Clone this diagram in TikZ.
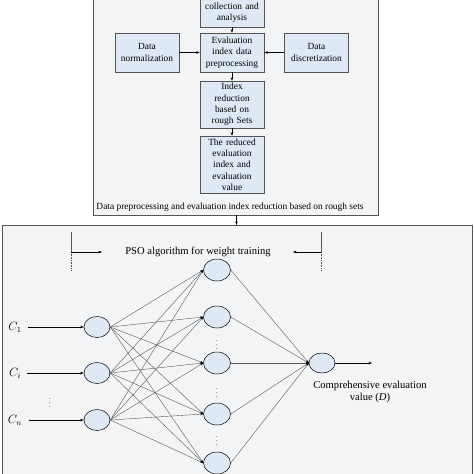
\documentclass[tikz,border=0pt]{standalone}
\usepackage{amsmath}
\usepackage{fontspec}
\setmainfont{Liberation Serif}
\usetikzlibrary{positioning}
\usetikzlibrary{arrows.meta}
\usetikzlibrary{shapes.geometric}
\definecolor{frameColor}{rgb}{0.95,0.955,0.965}
\definecolor{boxColor}{rgb}{0.87,0.915,0.96}
\definecolor{lineColor}{rgb}{0.33,0.33,0.33}
\begin{document}
\begin{tikzpicture}[x=1pt,y=-1pt]

            \tikzstyle{frame} = [draw=lineColor, fill=frameColor, line width=0.8pt];
            \tikzstyle{stepBox} = [draw=lineColor, fill=boxColor, line width=0.6pt, align=center, inner sep=1pt, minimum width=64pt, text width=62pt, font=\fontsize{9.4}{11.3}\selectfont];
            \tikzstyle{neuron} = [draw=black, fill=boxColor, ellipse, line width=0.5pt, minimum width=26pt, minimum height=21pt, inner sep=0pt];
            \tikzstyle{normalText} = [font=\fontsize{10.6}{12}\selectfont, align=center];
            \tikzstyle{dotsText} = [font=\fontsize{6.5}{7}\selectfont, inner sep=0pt];

            \tikzstyle{normalEdge} = [line width=0.5pt, -{Stealth[length=3.5pt,width=2.6pt]}];
            \tikzstyle{weightEdge} = [line width=0.4pt, black!65, -{Stealth[length=3pt,width=2.4pt,black]}];

            \useasboundingbox (0,0) rectangle (474,474);
            \clip (0,0) rectangle (474,474);

            % rough sets part
            \draw[frame] (93,-10) rectangle (378,215);
            \node[stepBox, minimum height=28pt] (collect) at (232,13) {collection and\\analysis};
            \node[stepBox, minimum height=39pt] (prep) at (232,52.5) {Evaluation\\index data\\preprocessing};
            \node[stepBox, minimum height=39pt] (norm) at (147,52.5) {Data\\normalization};
            \node[stepBox, minimum height=39pt] (disc) at (316.5,52.5) {Data\\discretization};
            \node[stepBox, minimum height=47pt] (reduct) at (232,104.5) {Index\\reduction\\based on\\rough Sets};
            \node[stepBox, minimum height=57pt] (result) at (232,164.5) {The reduced\\evaluation\\index and\\evaluation\\value};
            \node[normalText, font=\fontsize{9.4}{11}\selectfont] (roughTitle) at (230,207) {Data preprocessing and evaluation index reduction based on rough sets};

            \draw[normalEdge] (collect) -- (prep);
            \draw[normalEdge] (norm) -- (prep);
            \draw[normalEdge] (disc) -- (prep);
            \draw[normalEdge] (prep) -- (reduct);
            \draw[normalEdge] (reduct) -- (result);

            % neural network part
            \draw[frame] (2,225) rectangle (472,490);
            \coordinate (upOut) at (236.5,215);
            \coordinate (upIn) at (236.5,225);
            \draw[normalEdge] (upOut) -- (upIn);

            \node[normalText] (pso) at (198,252) {PSO algorithm for weight training};
            \coordinate (leftTop) at (71,232);
            \coordinate (leftMid) at (71,252);
            \coordinate (leftBot) at (71,270);
            \coordinate (rightTop) at (321,232);
            \coordinate (rightMid) at (321,252);
            \coordinate (rightBot) at (321,270);
            \coordinate (leftTip) at (102,252);
            \coordinate (rightTip) at (293,252);
            \draw[lineColor, line width=0.6pt] (leftTop) -- (leftMid);
            \draw[lineColor, line width=0.6pt, densely dotted] (leftMid) -- (leftBot);
            \draw[lineColor, line width=0.6pt] (rightTop) -- (rightMid);
            \draw[lineColor, line width=0.6pt, densely dotted] (rightMid) -- (rightBot);
            \draw[normalEdge] (leftMid) -- (leftTip);
            \draw[normalEdge] (rightMid) -- (rightTip);

            \node[normalText, font=\fontsize{11.5}{12}\selectfont] (c1) at (15,327) {$C_1$};
            \node[normalText, font=\fontsize{11.5}{12}\selectfont] (ci) at (15,373) {$C_i$};
            \node[normalText, font=\fontsize{11.5}{12}\selectfont] (cn) at (15,420) {$C_n$};
            \node[dotsText] (cdots) at (50,400) {$\vdots$};

            \node[neuron] (in1) at (97,327) {};
            \node[neuron] (in2) at (97,373) {};
            \node[neuron] (in3) at (97,420) {};

            \node[neuron, minimum width=27pt, minimum height=22pt] (h1) at (217,270) {};
            \node[neuron, minimum width=27pt, minimum height=22pt] (h2) at (217,317) {};
            \node[neuron, minimum width=27pt, minimum height=22pt] (h3) at (217,363) {};
            \node[neuron, minimum width=27pt, minimum height=22pt] (h4) at (217,414) {};
            \node[neuron, minimum width=27pt, minimum height=22pt] (h5) at (217,463) {};
            \node[dotsText] (hdots1) at (217,342) {$\vdots$};
            \node[dotsText] (hdots2) at (217,390) {$\vdots$};
            \node[dotsText] (hdots3) at (217,438) {$\vdots$};

            \node[neuron, minimum height=20pt] (out) at (322,363) {};
            \coordinate (outTip) at (372,363);
            \node[normalText] (outLabel) at (370,392) {Comprehensive evaluation\\value (\textit{D})};

            \draw[normalEdge, shorten <=3pt] (c1) -- (in1);
            \draw[normalEdge, shorten <=3pt] (ci) -- (in2);
            \draw[normalEdge, shorten <=3pt] (cn) -- (in3);

            \draw[weightEdge] (in1.east) -- (h1.west);
            \draw[weightEdge] (in1.east) -- (h2.west);
            \draw[weightEdge] (in1.east) -- (h3.west);
            \draw[weightEdge] (in1.east) -- (h4.west);
            \draw[weightEdge] (in1.east) -- (h5.west);
            \draw[weightEdge] (in2.east) -- (h1.west);
            \draw[weightEdge] (in2.east) -- (h2.west);
            \draw[weightEdge] (in2.east) -- (h3.west);
            \draw[weightEdge] (in2.east) -- (h4.west);
            \draw[weightEdge] (in2.east) -- (h5.west);
            \draw[weightEdge] (in3.east) -- (h1.west);
            \draw[weightEdge] (in3.east) -- (h2.west);
            \draw[weightEdge] (in3.east) -- (h3.west);
            \draw[weightEdge] (in3.east) -- (h4.west);
            \draw[weightEdge] (in3.east) -- (h5.west);

            \draw[weightEdge] (h1.east) -- (out.west);
            \draw[weightEdge] (h2.east) -- (out.west);
            \draw[weightEdge] (h3.east) -- (out.west);
            \draw[weightEdge] (h4.east) -- (out.west);
            \draw[weightEdge] (h5.east) -- (out.west);

            \draw[normalEdge] (out) -- (outTip);
          \end{tikzpicture}
\end{document}
